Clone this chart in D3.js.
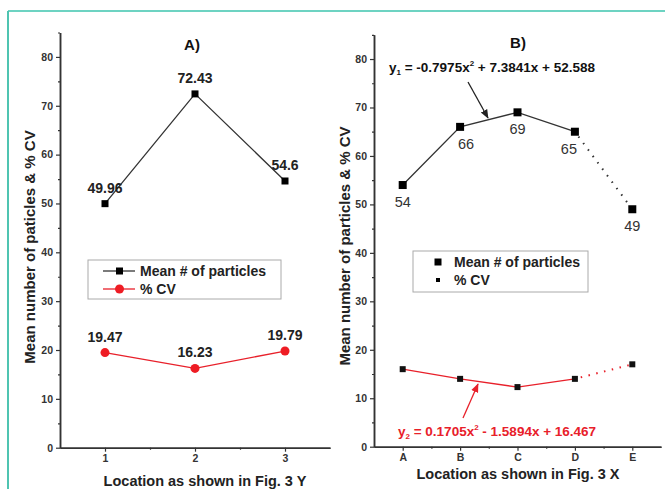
<!DOCTYPE html>
<html>
<head>
<meta charset="utf-8">
<script src="https://d3js.org/d3.v7.min.js"></script>
<style>
body { margin: 0; background: #fff; }
text { font-family: "Liberation Sans", Arial, sans-serif; }
</style>
</head>
<body>
<div id="chart"></div>
<script>
var svgWidth = 665;
var svgHeight = 489;

// Panel A data
var locA = [1, 2, 3];
var meanA = [49.96, 72.43, 54.6];
var cvA = [19.47, 16.23, 19.79];

// Panel B data
var locB = ["A", "B", "C", "D", "E"];
var meanB = [54, 66, 69, 65, 49];
var cvB = [16, 14, 12.3, 14, 17];

var yTicks = [0, 10, 20, 30, 40, 50, 60, 70, 80];
var yMinor = [5, 15, 25, 35, 45, 55, 65, 75, 85];

var svg = d3.select("#chart")
    .append("svg")
    .attr("width", svgWidth)
    .attr("height", svgHeight);

svg.append("defs").selectAll("marker")
    .data([["arrBlack", "#222"], ["arrRed", "#e8202a"]])
    .enter()
    .append("marker")
    .attr("id", d => d[0])
    .attr("viewBox", "0 0 10 10")
    .attr("refX", 9)
    .attr("refY", 5)
    .attr("markerWidth", 7)
    .attr("markerHeight", 7)
    .attr("orient", "auto")
    .append("path")
    .attr("d", "M0,1 L10,5 L0,9 z")
    .attr("fill", d => d[1]);

// teal frame
svg.append("line").attr("x1", 8).attr("x2", 665).attr("y1", 11).attr("y2", 11)
    .attr("stroke", "#6dd3c2").attr("stroke-width", 2);
svg.append("line").attr("x1", 8).attr("x2", 8).attr("y1", 11).attr("y2", 489)
    .attr("stroke", "#4fc4b1").attr("stroke-width", 2);

function drawYAxis(g, y, x0) {
    var ax = g.append("g").attr("transform", `translate(${x0},0)`);
    ax.call(d3.axisLeft(y).tickValues(yTicks).tickSize(4).tickSizeOuter(0).tickFormat(d3.format("d")));
    ax.append("g").call(d3.axisLeft(y).tickValues(yMinor).tickSize(2).tickFormat("").tickSizeOuter(0));
    ax.selectAll("path.domain").attr("stroke", "#333").attr("stroke-width", 1.5);
    ax.selectAll(".tick line").attr("stroke", "#333").attr("stroke-width", 1.2);
    ax.selectAll(".tick text")
        .attr("font-size", 10.5).attr("font-weight", "bold").attr("fill", "#333")
        .attr("font-family", "Liberation Sans, Arial, sans-serif");
}

// ---------- Panel A ----------
var xA = d3.scaleLinear().domain([0.5, 3.5]).range([60, 330]);
var yA = d3.scaleLinear().domain([0, 85]).range([447.7, 32.5]);
var gA = svg.append("g");

drawYAxis(gA, yA, 60);
var axA = gA.append("g").attr("transform", `translate(0,${yA(0)})`);
axA.call(d3.axisBottom(xA).tickValues(locA).tickSize(4).tickSizeOuter(0).tickFormat(d3.format("d")));
axA.append("g").call(d3.axisBottom(xA).tickValues([1.5, 2.5]).tickSize(2).tickFormat("").tickSizeOuter(0));
axA.selectAll("path.domain").attr("stroke", "#333").attr("stroke-width", 1.5);
axA.selectAll(".tick line").attr("stroke", "#333").attr("stroke-width", 1.2);
axA.selectAll(".tick text").attr("font-size", 10.5).attr("font-weight", "bold").attr("fill", "#333")
    .attr("font-family", "Liberation Sans, Arial, sans-serif");

gA.append("text").attr("x", 192).attr("y", 50).attr("text-anchor", "middle")
    .attr("font-size", 15).attr("font-weight", "bold").attr("fill", "#111").text("A)");

gA.append("text").attr("x", 205).attr("y", 486).attr("text-anchor", "middle")
    .attr("font-size", 14.5).attr("font-weight", "bold").attr("fill", "#222")
    .text("Location as shown in Fig. 3 Y");

gA.append("text").attr("transform", "translate(35,247) rotate(-90)").attr("text-anchor", "middle")
    .attr("font-size", 15).attr("font-weight", "bold").attr("fill", "#222")
    .text("Mean number of paticles & % CV");

var lineA = d3.line().x((d, i) => xA(locA[i])).y(d => yA(d));

gA.append("path").attr("d", lineA(meanA)).attr("fill", "none").attr("stroke", "#333").attr("stroke-width", 1.3);
gA.append("path").attr("d", lineA(cvA)).attr("fill", "none").attr("stroke", "#e8202a").attr("stroke-width", 1.3);

gA.selectAll(".mA").data(meanA).enter().append("rect")
    .attr("x", (d, i) => xA(locA[i]) - 3.5).attr("y", d => yA(d) - 3.5)
    .attr("width", 7).attr("height", 7).attr("fill", "#000");
gA.selectAll(".cA").data(cvA).enter().append("circle")
    .attr("cx", (d, i) => xA(locA[i])).attr("cy", d => yA(d)).attr("r", 4.5).attr("fill", "#ee1c24");

gA.selectAll(".lmA").data(meanA).enter().append("text")
    .attr("x", (d, i) => xA(locA[i])).attr("y", d => yA(d) - 11).attr("text-anchor", "middle")
    .attr("font-size", 14).attr("font-weight", "bold").attr("fill", "#222").text(d => d);
gA.selectAll(".lcA").data(cvA).enter().append("text")
    .attr("x", (d, i) => xA(locA[i])).attr("y", d => yA(d) - 11).attr("text-anchor", "middle")
    .attr("font-size", 14).attr("font-weight", "bold").attr("fill", "#222").text(d => d);

// legend A
var legA = gA.append("g");
legA.append("rect").attr("x", 88).attr("y", 260).attr("width", 193).attr("height", 39)
    .attr("fill", "#fff").attr("stroke", "#aaa").attr("stroke-width", 1);
legA.append("line").attr("x1", 103).attr("x2", 135).attr("y1", 271).attr("y2", 271).attr("stroke", "#333").attr("stroke-width", 1.3);
legA.append("rect").attr("x", 116).attr("y", 267.5).attr("width", 7).attr("height", 7).attr("fill", "#000");
legA.append("line").attr("x1", 103).attr("x2", 135).attr("y1", 289).attr("y2", 289).attr("stroke", "#e8202a").attr("stroke-width", 1.3);
legA.append("circle").attr("cx", 119.5).attr("cy", 289).attr("r", 4.5).attr("fill", "#ee1c24");
legA.append("text").attr("x", 140).attr("y", 276).attr("font-size", 14).attr("font-weight", "bold").attr("fill", "#222").text("Mean # of particles");
legA.append("text").attr("x", 140).attr("y", 294).attr("font-size", 14).attr("font-weight", "bold").attr("fill", "#222").text("% CV");

// ---------- Panel B ----------
var xB = d3.scaleLinear().domain([-0.5, 4.5]).range([374, 661]);
var yB = d3.scaleLinear().domain([0, 85]).range([446.7, 34.8]);
var gB = svg.append("g");

drawYAxis(gB, yB, 374);
var axB = gB.append("g").attr("transform", `translate(0,${yB(0)})`);
axB.call(d3.axisBottom(xB).tickValues(d3.range(locB.length)).tickSize(4).tickSizeOuter(0).tickFormat(i => locB[i]));
axB.append("g").call(d3.axisBottom(xB).tickValues([0.5, 1.5, 2.5, 3.5]).tickSize(2).tickFormat("").tickSizeOuter(0));
axB.selectAll("path.domain").attr("stroke", "#333").attr("stroke-width", 1.5);
axB.selectAll(".tick line").attr("stroke", "#333").attr("stroke-width", 1.2);
axB.selectAll(".tick text").attr("font-size", 10.5).attr("font-weight", "bold").attr("fill", "#333")
    .attr("font-family", "Liberation Sans, Arial, sans-serif");

gB.append("text").attr("x", 518).attr("y", 48).attr("text-anchor", "middle")
    .attr("font-size", 15).attr("font-weight", "bold").attr("fill", "#111").text("B)");

gB.append("text").attr("x", 518).attr("y", 479).attr("text-anchor", "middle")
    .attr("font-size", 14.5).attr("font-weight", "bold").attr("fill", "#222")
    .text("Location as shown in Fig. 3 X");

gB.append("text").attr("transform", "translate(350,246) rotate(-90)").attr("text-anchor", "middle")
    .attr("font-size", 15).attr("font-weight", "bold").attr("fill", "#222")
    .text("Mean number of particles & % CV");

var lineB = d3.line().x(d => xB(d[0])).y(d => yB(d[1]));
var meanPts = meanB.map((v, i) => [i, v]);
var cvPts = cvB.map((v, i) => [i, v]);

gB.append("path").attr("d", lineB(meanPts.slice(0, 4))).attr("fill", "none").attr("stroke", "#333").attr("stroke-width", 1.3);
gB.append("path").attr("d", lineB(meanPts.slice(3))).attr("fill", "none").attr("stroke", "#333")
    .attr("stroke-width", 2).attr("stroke-dasharray", "1.5,6.5").attr("stroke-dashoffset", -6);
gB.append("path").attr("d", lineB(cvPts.slice(0, 4))).attr("fill", "none").attr("stroke", "#e8202a").attr("stroke-width", 1.3);
gB.append("path").attr("d", lineB(cvPts.slice(3))).attr("fill", "none").attr("stroke", "#e8202a")
    .attr("stroke-width", 2).attr("stroke-dasharray", "1.5,6.5").attr("stroke-dashoffset", -6);

gB.selectAll(".mB").data(meanPts).enter().append("rect")
    .attr("x", d => xB(d[0]) - 4).attr("y", d => yB(d[1]) - 4)
    .attr("width", 8).attr("height", 8).attr("fill", "#000");
gB.selectAll(".cB").data(cvPts).enter().append("rect")
    .attr("x", d => xB(d[0]) - 3).attr("y", d => yB(d[1]) - 3)
    .attr("width", 6).attr("height", 6).attr("fill", "#111");

var dxB = [0, 6, 0, -6, 0];
gB.selectAll(".lmB").data(meanPts).enter().append("text")
    .attr("x", d => xB(d[0]) + dxB[d[0]]).attr("y", d => yB(d[1]) + 22).attr("text-anchor", "middle")
    .attr("font-size", 14.5).attr("fill", "#333").text(d => d[1]);

// fitted equations with arrows
gB.append("text").attr("x", 389).attr("y", 72).attr("font-size", 13.5).attr("font-weight", "bold").attr("fill", "#111")
    .html('y<tspan font-size="8" dy="3">1</tspan><tspan dy="-3"> = -0.7975x</tspan><tspan font-size="8" dy="-6">2</tspan><tspan dy="6"> + 7.3841x + 52.588</tspan>');
gB.append("line").attr("x1", 468).attr("y1", 82).attr("x2", 488).attr("y2", 118)
    .attr("stroke", "#222").attr("stroke-width", 1.3).attr("marker-end", "url(#arrBlack)");

gB.append("text").attr("x", 398).attr("y", 436).attr("font-size", 13.5).attr("font-weight", "bold").attr("fill", "#e8202a")
    .html('y<tspan font-size="8" dy="3">2</tspan><tspan dy="-3"> = 0.1705x</tspan><tspan font-size="8" dy="-6">2</tspan><tspan dy="6"> - 1.5894x + 16.467</tspan>');
gB.append("line").attr("x1", 463).attr("y1", 418).attr("x2", 478).attr("y2", 384)
    .attr("stroke", "#e8202a").attr("stroke-width", 1.3).attr("marker-end", "url(#arrRed)");

// legend B
var legB = gB.append("g");
legB.append("rect").attr("x", 413).attr("y", 251).attr("width", 175).attr("height", 41)
    .attr("fill", "#fff").attr("stroke", "#aaa").attr("stroke-width", 1);
legB.append("rect").attr("x", 434.5).attr("y", 258.5).attr("width", 7).attr("height", 7).attr("fill", "#000");
legB.append("rect").attr("x", 436).attr("y", 278).attr("width", 4).attr("height", 4).attr("fill", "#000");
legB.append("text").attr("x", 454).attr("y", 267).attr("font-size", 14).attr("font-weight", "bold").attr("fill", "#222").text("Mean # of particles");
legB.append("text").attr("x", 454).attr("y", 285).attr("font-size", 14).attr("font-weight", "bold").attr("fill", "#222").text("% CV");
</script>
</body>
</html>
